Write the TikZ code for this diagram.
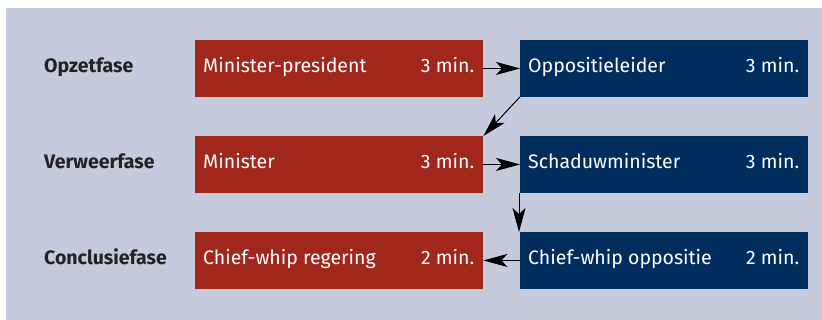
\documentclass[tikz,border=0pt]{standalone}
\usepackage{fontspec}
\setmainfont{Fira Sans}
\usetikzlibrary{arrows.meta}
\definecolor{bgc}{HTML}{C5CADD}
\definecolor{redc}{HTML}{A1271C}
\definecolor{bluec}{HTML}{002D5E}
\definecolor{lblc}{HTML}{222222}
\tikzset{
  box/.style={minimum width=288pt, minimum height=56.5pt, inner sep=0pt, anchor=north west, draw=none},
  redbox/.style={box, fill=redc},
  bluebox/.style={box, fill=bluec},
  boxtxt/.style={text=white, inner sep=0pt, text height=14pt, text depth=4pt, yshift=1.2pt, font=\fontsize{19.5}{22}\selectfont},
  phase/.style={text=lblc, inner sep=0pt, text height=14pt, text depth=4pt, anchor=west, font=\fontsize{19.5}{22}\selectfont\bfseries},
  conn/.style={line width=1pt, -{Stealth[length=24pt, width=13pt, inset=6pt]}}
}
\begin{document}
\begin{tikzpicture}[x=1pt, y=-1pt]
\useasboundingbox (0,0) rectangle (822,320);
\fill[bgc] (6,8) rectangle (822,320);
% phases
\node[phase] (p1) at (44,67.3) {Opzetfase};
\node[phase] (p2) at (44,163.3) {Verweerfase};
\node[phase] (p3) at (44,259.3) {Conclusiefase};
% boxes
\node[redbox] (r1) at (195,40) {};
\node[bluebox] (b1) at (520,40) {};
\node[redbox] (r2) at (195,136) {};
\node[bluebox] (b2) at (520,136) {};
\node[redbox] (r3) at (195,232) {};
\node[bluebox] (b3) at (520,232) {};
% texts
\node[boxtxt, anchor=west] (r1t) at ([xshift=8pt]r1.west) {Minister-president};
\node[boxtxt, anchor=east] (r1m) at ([xshift=-9pt]r1.east) {3 min.};
\node[boxtxt, anchor=west] (b1t) at ([xshift=8pt]b1.west) {Oppositieleider};
\node[boxtxt, anchor=east] (b1m) at ([xshift=-9pt]b1.east) {3 min.};
\node[boxtxt, anchor=west] (r2t) at ([xshift=8pt]r2.west) {Minister};
\node[boxtxt, anchor=east] (r2m) at ([xshift=-9pt]r2.east) {3 min.};
\node[boxtxt, anchor=west] (b2t) at ([xshift=8pt]b2.west) {Schaduwminister};
\node[boxtxt, anchor=east] (b2m) at ([xshift=-9pt]b2.east) {3 min.};
\node[boxtxt, anchor=west] (r3t) at ([xshift=8pt]r3.west) {Chief-whip regering};
\node[boxtxt, anchor=east] (r3m) at ([xshift=-9pt]r3.east) {2 min.};
\node[boxtxt, anchor=west] (b3t) at ([xshift=8pt]b3.west) {Chief-whip oppositie};
\node[boxtxt, anchor=east] (b3m) at ([xshift=-9pt]b3.east) {2 min.};
% connectors
\draw[conn] (r1.east) -- (b1.west);
\draw[conn] (b1.south west) -- (r2.north east);
\draw[conn] (r2.east) -- (b2.west);
\draw[conn] ([xshift=-1pt]b2.south west) -- ([xshift=-1pt]b3.north west);
\draw[conn] (b3.west) -- (r3.east);
\end{tikzpicture}
\end{document}
